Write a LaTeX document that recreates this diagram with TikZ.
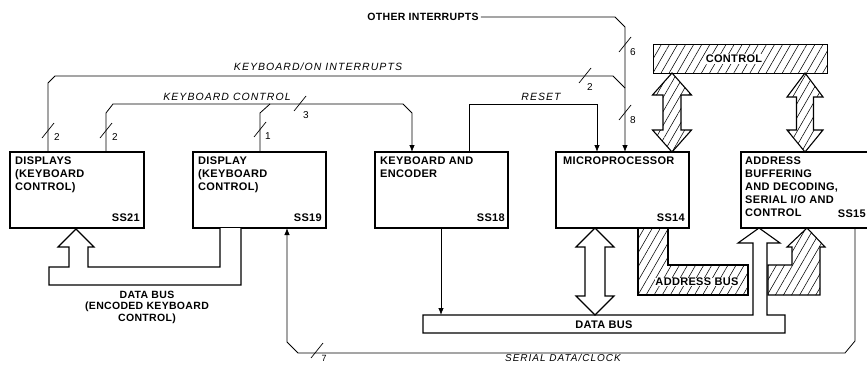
\documentclass[tikz,border=0pt]{standalone}
\usepackage{fontspec}
\setmainfont{Liberation Sans}
\newfontfamily\boxfont[LetterSpace=3]{Liberation Sans}
\newfontfamily\sigfont[LetterSpace=10]{Liberation Sans}
\usetikzlibrary{arrows.meta,patterns.meta,calc}
\begin{document}
\begin{tikzpicture}[x=1pt,y=-1pt,line join=miter,
  box/.style={draw, line width=1.4pt, inner sep=0pt, outer sep=0pt, anchor=north west, minimum height=76pt},
  boxtext/.style={font=\boxfont\bfseries\fontsize{11}{13}\selectfont, align=left, anchor=north west, inner sep=0pt},
  sslabel/.style={font=\boxfont\bfseries\fontsize{11}{13}\selectfont, anchor=east, inner sep=0pt},
  buslabel/.style={font=\boxfont\bfseries\fontsize{11}{12}\selectfont, align=center, inner sep=1pt},
  conn/.style={line width=0.8pt},
  arr/.style={conn, -{Latex[length=7pt,width=5.5pt]}},
  sig/.style={font=\sigfont\itshape\fontsize{10.5}{12}\selectfont, inner sep=0pt},
  num/.style={font=\fontsize{10}{12}\selectfont, inner sep=0pt},
  slashmark/.style={line width=0.7pt},
  bus/.style={draw, line width=1.1pt, fill=white},
  hatch/.style={draw, line width=1.1pt, pattern={Lines[angle=60,distance=7pt,line width=0.55pt]}},
]
\fill[white] (0,0) rectangle (867,364);
\useasboundingbox (0,0) rectangle (867,364);

% ---- boxes
\node[box, minimum width=134pt] (ss21) at (10,152) {};
\node[box, minimum width=133pt] (ss19) at (193,152) {};
\node[box, minimum width=133pt] (ss18) at (375,152) {};
\node[box, minimum width=133pt] (ss14) at (556,152) {};
\node[box, minimum width=130pt] (ss15) at (741,152) {};

\node[boxtext] (t21) at (15,157) {DISPLAYS\\(KEYBOARD\\CONTROL)};
\node[boxtext] (t19) at (198,157) {DISPLAY\\(KEYBOARD\\CONTROL)};
\node[boxtext] (t18) at (380,157) {KEYBOARD AND\\ENCODER};
\node[boxtext] (t14) at (563,157) {MICROPROCESSOR};
\node[boxtext] (t15) at (745,157) {ADDRESS\\BUFFERING\\AND DECODING,\\SERIAL I/O AND\\CONTROL};
\node[sslabel] (l21) at (140,218) {SS21};
\node[sslabel] (l19) at (322,218) {SS19};
\node[sslabel] (l18) at (505,218) {SS18};
\node[sslabel] (l14) at (685,218) {SS14};
\node[sslabel] (l15) at (866,214) {SS15};

% ---- control bus
\node[hatch, anchor=north west, minimum width=174pt, minimum height=29pt, inner sep=0pt] (ctrl) at (653,44) {};
\node[buslabel, fill=white] (ctrllbl) at (734,59) {CONTROL};
\path[hatch] (672,73) -- (691.5,95) -- (681,95) -- (681,130) -- (691.5,130) -- (672,152)
  -- (652.5,130) -- (663,130) -- (663,95) -- (652.5,95) -- cycle;
\path[hatch] (805,73) -- (823,97) -- (813.5,97) -- (813.5,130) -- (823,130) -- (805,152)
  -- (787,130) -- (796.5,130) -- (796.5,97) -- (787,97) -- cycle;

% ---- address bus
\path[hatch] (638,228) -- (668,228) -- (668,265) -- (748,265) -- (748,295) -- (638,295) -- cycle;
\path[hatch] (768,265) -- (792,265) -- (792,247) -- (787,247) -- (807,228) -- (825,247)
  -- (820,247) -- (820,295) -- (768,295) -- cycle;
\node[buslabel, fill=white, inner sep=0.5pt] (addrlbl) at (697,282) {ADDRESS BUS};

% ---- data bus
\node[anchor=north west, minimum width=362pt, minimum height=18pt, inner sep=0pt, outer sep=0pt] (dbus) at (423,315) {};
\path[bus] (753,315) -- (423,315) -- (423,333) -- (785,333) -- (785,315) -- (767,315)
  -- (767,243) -- (780,243) -- (759,228) -- (738,243) -- (753,243) -- cycle;
\node[buslabel] (dbuslbl) at (604,325) {DATA BUS};
\path[bus] (595,228) -- (614,247) -- (605,247) -- (605,296) -- (614,296) -- (595,315)
  -- (576,296) -- (585,296) -- (585,247) -- (576,247) -- cycle;

% ---- encoded keyboard data bus
\path[bus] (220,228) -- (220,267) -- (88,267) -- (88,247) -- (94,247) -- (76,229) -- (58,247)
  -- (69,247) -- (69,267) -- (49,267) -- (49,285) -- (241,285) -- (241,228);
\node[buslabel, font=\boxfont\bfseries\fontsize{10.5}{11.5}\selectfont] (kdbus) at (147,307) {DATA BUS\\(ENCODED KEYBOARD\\CONTROL)};

% ---- signal lines
\node[buslabel, inner sep=2pt, font=\boxfont\bfseries\fontsize{10.5}{12}\selectfont] (oth) at (423,17) {OTHER INTERRUPTS};
\draw[arr] (oth.east) -- (615,0 |- oth.east) -- (625,27) -- (625,0 |- ss14.north);

\coordinate (joinA) at (625,88);
\draw[conn] (48,0 |- ss21.north) -- (48,83) -- (55,76) -- (613,76) -- (joinA);
\node[sig] (kbon) at (318,67) {KEYBOARD/ON INTERRUPTS};

\coordinate (brk) at (270,104);
\draw[arr] (106,0 |- ss21.north) -- (106,113) -- (113,104) -- (403,104) -- (412,113) -- (412,0 |- ss18.north);
\draw[conn] (260,0 |- ss19.north) -- (260,113) -- (brk);
\node[sig] (kbc) at (227,97) {KEYBOARD CONTROL};

\draw[arr] (469,0 |- ss18.north) -- (469,104) -- (597,104) -- (597,0 |- ss14.north);
\node[sig] (rst) at (541,97) {RESET};

\draw[arr] (441,0 |- ss18.south) -- (441,0 |- dbus.north);

\draw[arr] (855,0 |- ss15.south) -- (855,341) -- (845,353) -- (298,353) -- (287,342) -- (287,0 |- ss19.south);
\node[sig, font=\sigfont\itshape\fontsize{10}{12}\selectfont] (ser) at (563,358) {SERIAL DATA/CLOCK};

% ---- bus width marks
\coordinate (m1) at (48,131);
\coordinate (m2) at (106,131);
\coordinate (m3) at (260,130);
\coordinate (m4) at (300,104);
\coordinate (m5) at (585,76);
\coordinate (m6) at (625,45);
\coordinate (m7) at (625,113);
\coordinate (m8) at (317,351);
\foreach \m in {m1,m2,m3,m4,m5,m6,m7,m8}
  \draw[slashmark] ([shift={(-6,7)}]\m) -- ([shift={(6,-8)}]\m);
\node[num] (n1) at ([shift={(9,6)}]m1) {2};
\node[num] (n2) at ([shift={(9,6)}]m2) {2};
\node[num] (n3) at ([shift={(8,6)}]m3) {1};
\node[num] (n4) at ([shift={(6,11)}]m4) {3};
\node[num] (n5) at ([shift={(5,11)}]m5) {2};
\node[num] (n6) at ([shift={(8,7)}]m6) {6};
\node[num] (n7) at ([shift={(8,7)}]m7) {8};
\node[num, font=\fontsize{9}{10}\selectfont] (n8) at (324,358.5) {7};
\end{tikzpicture}
\end{document}
